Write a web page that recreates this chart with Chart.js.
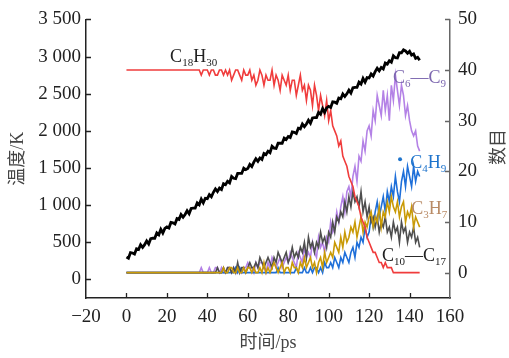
<!DOCTYPE html>
<html><head><meta charset="utf-8">
<script src="https://cdn.jsdelivr.net/npm/chart.js@4.4.0/dist/chart.umd.min.js"></script>
<style>html,body{margin:0;padding:0;background:#fff;}canvas{display:block;}</style>
</head><body>
<canvas id="c" width="509" height="358"></canvas>
<script>
// ---- data (time in ps, 1 ps step) ----
const time = [0,1,2,3,4,5,6,7,8,9,10,11,12,13,14,15,16,17,18,19,20,21,22,23,24,25,26,27,28,29,30,31,32,33,34,35,36,37,38,39,40,41,42,43,44,45,46,47,48,49,50,51,52,53,54,55,56,57,58,59,60,61,62,63,64,65,66,67,68,69,70,71,72,73,74,75,76,77,78,79,80,81,82,83,84,85,86,87,88,89,90,91,92,93,94,95,96,97,98,99,100,101,102,103,104,105,106,107,108,109,110,111,112,113,114,115,116,117,118,119,120,121,122,123,124,125,126,127,128,129,130,131,132,133,134,135,136,137,138,139,140,141,142,143,144,145];

const temperature = [300,285,361,356,341,412,402,467,432,468,
 518,478,549,554,554,625,600,675,625,686,
 706,691,767,762,747,818,808,873,838,874,
 924,884,955,960,960,1031,1006,1081,1031,1092,
 1087,1142,1113,1173,1218,1184,1229,1209,1289,1275,
 1320,1300,1386,1361,1356,1427,1427,1427,1497,1478,
 1493,1548,1519,1579,1624,1590,1635,1615,1695,1681,
 1726,1706,1792,1767,1762,1833,1833,1833,1903,1884,
 1924,1909,1985,1980,1965,2036,2026,2091,2056,2092,
 2142,2102,2173,2178,2178,2249,2224,2299,2249,2310,
 2330,2315,2391,2386,2371,2442,2432,2497,2462,2498,
 2548,2508,2579,2584,2584,2655,2630,2705,2655,2716,
 2711,2766,2737,2797,2842,2808,2853,2833,2913,2899,
 2944,2924,3010,2985,2980,3051,3051,3090,3075,3045,
 3070,3020,3035,2975,2990,2950];

const c18h30 = [40,40,40,40,40,40,40,40,40,40,
 40,40,40,40,40,40,40,40,40,40,
 40,40,40,40,40,40,40,40,40,40,
 40,40,40,40,40,40,40,39,40,40,
 40,39,40,40,39,39,40,40,39,40,
 39,40,38,39,40,40,39,38,40,39,
 39,40,38,39,37,38,40,39,37,39,
 38,38,40,37,39,38,36,39,38,37,
 39,36,38,38,35,37,39,36,37,34,
 37,36,33,37,35,32,35,33,31,34,
 30,32,29,28,27,25,26,23,22,21,
 19,18,17,15,14,13,11,10,9,7,
 6,5,4,4,3,2,2,1,2,1,
 1,1,0,0,0,0,0,0,0,0,
 0,0,0,0,0,0];

const c6c9 = [0,0,0,0,0,0,0,0,0,0,
 0,0,0,0,0,0,0,0,0,0,
 0,0,0,0,0,0,0,0,0,0,
 0,0,0,0,0,0,0,1,0,0,
 0,1,0,0,1,1,0,1,0,0,
 1,1,0,1,0,0,1,0,1,1,
 2,1,1,0,2,1,2,2,1,0,
 2,1,3,2,1,2,3,1,2,3,
 2,4,3,2,1,4,3,2,5,3,
 4,3,6,4,3,7,5,6,4,7,
 6,10,8,9,12,10,13,15,12,16,
 17,15,19,21,18,23,22,26,24,28,
 29,27,32,30,35,33,31,36,32,35,
 30,37,34,39,36,33,37,35,31,33,
 30,28,27,28,25,24];

const c4h9 = [0,0,0,0,0,0,0,0,0,0,
 0,0,0,0,0,0,0,0,0,0,
 0,0,0,0,0,0,0,0,0,0,
 0,0,0,0,0,0,0,0,0,0,
 0,0,0,0,0,0,0,0,0,0,
 0,0,0,0,1,0,1,0,0,0,
 0,0,0,0,0,0,0,0,0,0,
 0,0,0,0,0,1,0,0,0,0,
 0,0,0,0,1,0,0,0,1,0,
 0,1,0,1,1,0,1,0,2,1,
 1,2,1,3,2,1,3,2,4,3,
 2,4,5,3,6,5,7,6,9,7,
 8,11,9,12,14,11,13,15,12,16,
 14,17,15,19,16,14,18,20,17,21,
 19,17,21,18,20,19];

const c3h7 = [0,0,0,0,0,0,0,0,0,0,
 0,0,0,0,0,0,0,0,0,0,
 0,0,0,0,0,0,0,0,0,0,
 0,0,0,0,0,0,0,0,0,0,
 0,0,0,0,0,0,0,0,1,0,
 0,1,1,0,0,1,0,0,1,0,
 1,1,0,1,0,0,1,0,2,0,
 1,0,1,2,1,0,1,2,0,1,
 1,0,2,1,1,0,2,1,3,1,
 2,3,1,2,0,2,3,1,4,2,
 3,4,3,6,5,4,7,5,8,6,
 7,9,8,10,7,9,11,8,10,9,
 11,12,9,11,10,13,9,12,11,14,
 12,15,13,12,14,11,13,14,10,12,
 11,13,9,11,10,9];

const c10c17 = [0,0,0,0,0,0,0,0,0,0,
 0,0,0,0,0,0,0,0,0,0,
 0,0,0,0,0,0,0,0,0,0,
 0,0,0,0,0,0,0,0,0,0,
 0,0,0,0,0,1,0,0,1,0,
 1,1,0,1,0,2,0,1,1,0,
 1,2,1,1,2,1,3,2,1,2,
 3,2,1,3,2,4,3,2,3,4,
 2,3,5,3,4,3,5,4,6,3,
 7,5,6,4,6,5,8,6,7,5,
 8,7,10,8,11,10,12,11,14,12,
 15,13,16,14,15,13,16,12,14,11,
 13,10,11,9,11,8,10,9,11,8,
 9,7,10,8,9,6,10,8,9,6,
 8,7,9,6,7,5];

const timeTicks = [-20,0,20,40,60,80,100,120,140,160];
const tempTicks = [0,500,1000,1500,2000,2500,3000,3500];
const tempTickLabels = ['0','500','1 000','1 500','2 000','2 500','3 000','3 500'];
const countTicks = [0,10,20,30,40,50];

// ---- styling ----
const SERIF = '"Liberation Serif", "Times New Roman", serif';
const TITLE_FONT = '18px "Liberation Serif", "Noto Sans CJK SC", serif';
const pts = (arr) => arr.map((v, i) => ({x: time[i], y: v}));

function ds(label, data, color, axis, width) {
  return {label, data: pts(data), borderColor: color, backgroundColor: color,
    borderWidth: width, pointRadius: 0, tension: 0, yAxisID: axis, fill: false};
}

const annotations = [
  {parts: [['C',0],['18',1],['H',0],['30',1]], t: 21.6, v: 41.6, color: '#222'},
  {parts: [['C',0],['6',1],['—',0],['C',0],['9',1]], t: 131.8, v: 37.4, color: '#7d68b0'},
  {parts: [['C',0],['4',1],['H',0],['9',1]], t: 140.3, v: 20.7, color: '#1f74cc', dot: {t: 135.3, v: 22.4}},
  {parts: [['C',0],['3',1],['H',0],['7',1]], t: 140.8, v: 11.5, color: '#b98b66'},
  {parts: [['C',0],['10',1],['—',0],['C',0],['17',1]], t: 126.4, v: 2.4, color: '#222'}
];

const decorPlugin = {
  id: 'decor',
  afterDatasetsDraw(chart) {
    const ctx = chart.ctx;
    const xs = chart.scales.x, yr = chart.scales.yR;
    ctx.save();
    for (const a of annotations) {
      let x = xs.getPixelForValue(a.t);
      const y = yr.getPixelForValue(a.v);
      ctx.fillStyle = a.color;
      ctx.textBaseline = 'alphabetic';
      ctx.textAlign = 'left';
      for (const [txt, sub] of a.parts) {
        ctx.font = sub ? '11px ' + SERIF : '18px ' + SERIF;
        ctx.fillText(txt, x, y + (sub ? 4 : 0));
        x += ctx.measureText(txt).width;
      }
      if (a.dot) {
        ctx.beginPath();
        ctx.arc(xs.getPixelForValue(a.dot.t), yr.getPixelForValue(a.dot.v), 2, 0, Math.PI * 2);
        ctx.fill();
      }
    }
    ctx.restore();
  },
  afterDraw(chart) {
    const ctx = chart.ctx;
    const {left, right, top, bottom} = chart.chartArea;
    const xs = chart.scales.x, yl = chart.scales.yL, yr = chart.scales.yR;
    ctx.save();
    ctx.lineWidth = 1.3;
    ctx.strokeStyle = '#222';
    ctx.beginPath();
    for (const v of tempTicks) { const y = Math.round(yl.getPixelForValue(v)) + 0.5; ctx.moveTo(left, y); ctx.lineTo(left + 5, y); }
    for (const v of timeTicks) { if (v <= -20 || v >= 160) continue; const x = Math.round(xs.getPixelForValue(v)) + 0.5; ctx.moveTo(x, bottom); ctx.lineTo(x, bottom - 5); }
    ctx.stroke();
    ctx.strokeStyle = '#666';
    ctx.beginPath();
    for (const v of countTicks) { const y = Math.round(yr.getPixelForValue(v)) + 0.5; ctx.moveTo(right, y); ctx.lineTo(right - 5, y); }
    ctx.stroke();
    ctx.fillStyle = '#444';
    ctx.font = TITLE_FONT;
    ctx.textAlign = 'center';
    ctx.textBaseline = 'middle';
    ctx.fillText('时间/ps', (left + right) / 2, 343);
    ctx.save();
    ctx.translate(18, (top + bottom) / 2);
    ctx.rotate(-Math.PI / 2);
    ctx.fillText('温度/K', 0, 0);
    ctx.restore();
    ctx.save();
    ctx.translate(499, 147);
    ctx.rotate(-Math.PI / 2);
    ctx.fillText('数目', 0, 0);
    ctx.restore();
    ctx.restore();
  }
};

new Chart(document.getElementById('c'), {
  type: 'line',
  data: {
    datasets: [
      ds('温度', temperature, '#000000', 'yL', 2.8),
      ds('C18H30', c18h30, '#f03c3c', 'yR', 1.6),
      ds('C3H7', c3h7, '#c99a06', 'yR', 1.6),
      ds('C10—C17', c10c17, '#4e4e4e', 'yR', 1.6),
      ds('C4H9', c4h9, '#1e6fd9', 'yR', 1.6),
      ds('C6—C9', c6c9, '#b482e6', 'yR', 1.6)
    ]
  },
  options: {
    responsive: false,
    animation: false,
    devicePixelRatio: 1,
    layout: {padding: {top: 15, left: 0, right: 0, bottom: 0}},
    plugins: {legend: {display: false}, tooltip: {enabled: false}},
    scales: {
      x: {
        type: 'linear', position: 'bottom', min: -20, max: 160,
        afterBuildTicks: (s) => { s.ticks = timeTicks.map(v => ({value: v})); },
        afterFit: (s) => { s.height = 60; },
        ticks: {font: {family: SERIF, size: 19}, color: '#222', padding: 8,
          callback: (v) => v < 0 ? '−' + Math.abs(v) : String(v), maxRotation: 0, autoSkip: false},
        grid: {display: true, drawOnChartArea: false, drawTicks: false},
        border: {display: true, color: '#222', width: 1.5}
      },
      yL: {
        type: 'linear', position: 'left', min: -250, max: 3500,
        afterBuildTicks: (s) => { s.ticks = tempTicks.map(v => ({value: v})); },
        afterFit: (s) => { s.width = 86; },
        ticks: {font: {family: SERIF, size: 19}, color: '#222', padding: 5, autoSkip: false,
          callback: (v) => { const i = tempTicks.indexOf(v); return i >= 0 ? tempTickLabels[i] : ''; }},
        grid: {display: true, drawOnChartArea: false, drawTicks: false},
        border: {display: true, color: '#222', width: 1.5}
      },
      yR: {
        type: 'linear', position: 'right', min: -5, max: 50,
        afterBuildTicks: (s) => { s.ticks = countTicks.map(v => ({value: v})); },
        afterFit: (s) => { s.width = 59; },
        ticks: {font: {family: SERIF, size: 19}, color: '#222', padding: 8, autoSkip: false},
        grid: {display: true, drawOnChartArea: false, drawTicks: false},
        border: {display: true, color: '#666', width: 1.5}
      }
    }
  },
  plugins: [decorPlugin]
});
</script>
</body></html>
